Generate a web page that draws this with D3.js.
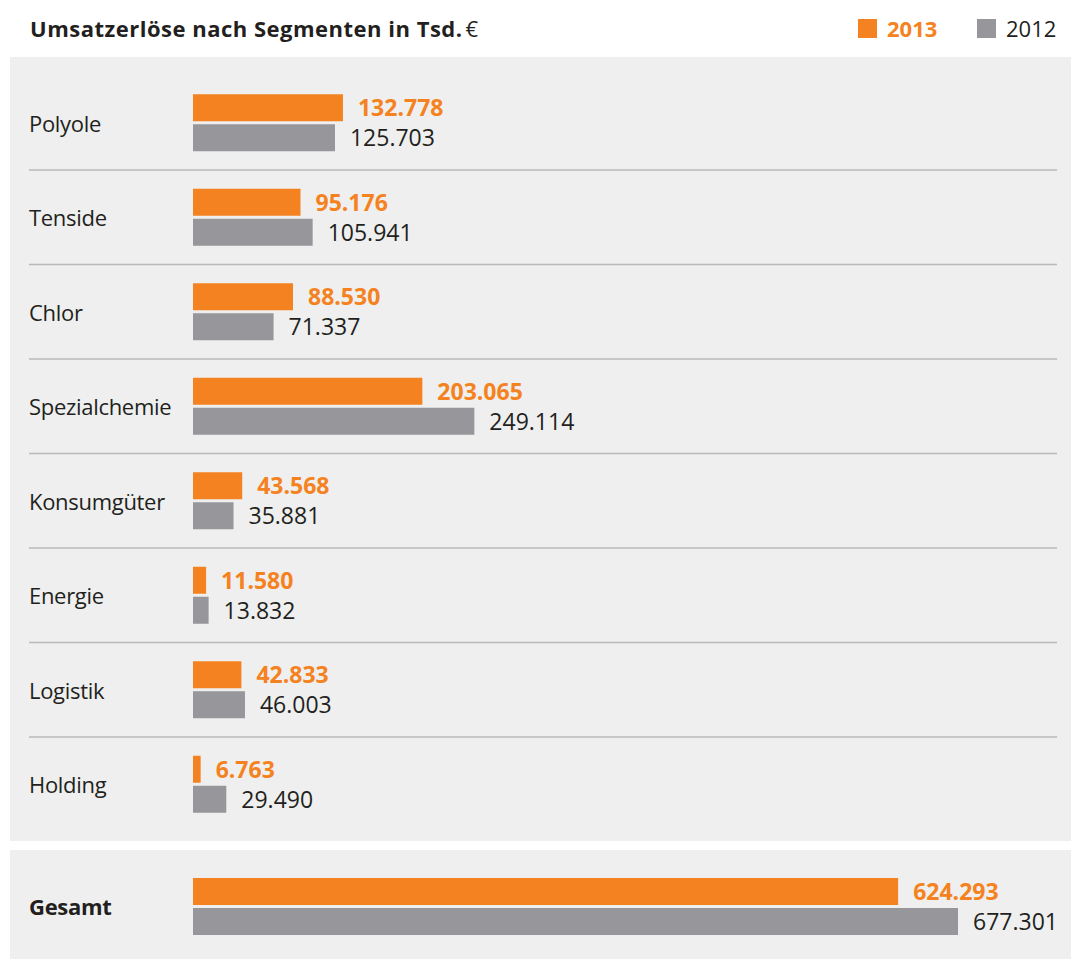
<!DOCTYPE html>
<html>
<head>
<meta charset="utf-8">
<script src="https://cdn.jsdelivr.net/npm/d3@7"></script>
<style>
  body { margin: 0; background: #fff; }
  svg { display: block; font-family: 'Open Sans', sans-serif; }
</style>
</head>
<body>
<svg id="chart" width="1071" height="959"></svg>
<script>
'use strict'

const segments = ['Polyole', 'Tenside', 'Chlor', 'Spezialchemie', 'Konsumgüter', 'Energie', 'Logistik', 'Holding']
const values2013 = [132778, 95176, 88530, 203065, 43568, 11580, 42833, 6763]
const values2012 = [125703, 105941, 71337, 249114, 35881, 13832, 46003, 29490]
const total2013 = 624293
const total2012 = 677301
const years = ['2013', '2012']

const orange = '#f58220'
const grey = '#97979b'
const panel = '#eeefee'
const textColor = '#231f20'

const fmt = d3.formatLocale({decimal: ',', thousands: '.', grouping: [3], currency: ['', ' €']}).format(',d')

const svg = d3.select('#chart')

// x scale shared by segments and total
const x = d3.scaleLinear().domain([0, total2012]).range([193, 958])
const y = d3.scaleBand().domain(segments).range([75, 831])
const barH = 27
const gap = 3

// title
svg.append('text')
    .attr('x', 30).attr('y', 37)
    .attr('font-size', 22).attr('font-weight', 700)
    .attr('letter-spacing', 0.5)
    .attr('fill', textColor)
    .text('Umsatzerlöse nach Segmenten in Tsd.')
    .append('tspan')
    .attr('font-weight', 400)
    .attr('dx', 3)
    .text('€')

// legend
const legend = svg.append('g')
legend.selectAll('g')
    .data(years)
    .enter()
    .append('g')
    .attr('transform', (d, i) => 'translate(' + (858 + i * 119) + ',19)')
    .each(function (d, i) {
        const g = d3.select(this)
        g.append('rect').attr('width', 19).attr('height', 19).attr('fill', i === 0 ? orange : grey)
        g.append('text')
            .attr('x', 29).attr('y', 18)
            .attr('font-size', 22)
            .attr('font-weight', i === 0 ? 700 : 400)
            .attr('fill', i === 0 ? orange : textColor)
            .text(d)
    })

// panels
svg.append('rect').attr('x', 10).attr('y', 57).attr('width', 1061).attr('height', 784).attr('fill', panel)
svg.append('rect').attr('x', 10).attr('y', 850).attr('width', 1061).attr('height', 109).attr('fill', panel)

// separators between rows
svg.append('g')
    .selectAll('line')
    .data(segments.slice(1))
    .enter()
    .append('line')
    .attr('x1', 29).attr('x2', 1057)
    .attr('y1', d => y(d) + 0.5).attr('y2', d => y(d) + 0.5)
    .attr('stroke', '#b9bab9').attr('stroke-width', 1.5)

function drawRow(g, label, v13, v12, bold) {
    g.append('text')
        .attr('x', 29).attr('y', 0).attr('dy', '0.42em')
        .attr('font-size', 22)
        .attr('letter-spacing', -0.3)
        .attr('font-weight', bold ? 700 : 400)
        .attr('fill', textColor)
        .text(label)
    const rows = [
        {v: v13, color: orange, y: -barH - gap / 2 + 0.5, weight: 700, tcolor: orange},
        {v: v12, color: grey, y: gap / 2 + 0.5, weight: 400, tcolor: textColor},
    ]
    g.selectAll('rect.bar')
        .data(rows)
        .enter()
        .append('rect')
        .attr('class', 'bar')
        .attr('x', x(0))
        .attr('y', d => d.y)
        .attr('width', d => x(d.v) - x(0))
        .attr('height', barH)
        .attr('fill', d => d.color)
    g.selectAll('text.val')
        .data(rows)
        .enter()
        .append('text')
        .attr('class', 'val')
        .attr('x', d => x(d.v) + 15)
        .attr('y', d => d.y + barH / 2)
        .attr('dy', '0.36em')
        .attr('font-size', 23)
        .attr('font-weight', d => d.weight)
        .attr('fill', d => d.tcolor)
        .text(d => fmt(d.v))
}

svg.append('g')
    .selectAll('g')
    .data(segments)
    .enter()
    .append('g')
    .attr('transform', d => 'translate(0,' + (y(d) + y.bandwidth() / 2) + ')')
    .each(function (d, i) {
        drawRow(d3.select(this), d, values2013[i], values2012[i], false)
    })

drawRow(svg.append('g').attr('transform', 'translate(0,906)'), 'Gesamt', total2013, total2012, true)
</script>
</body>
</html>
